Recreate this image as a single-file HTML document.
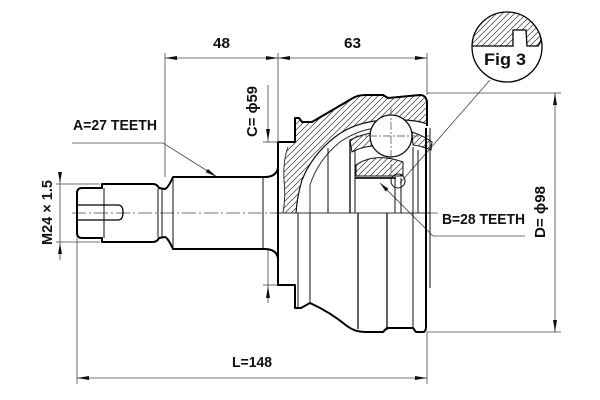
<!DOCTYPE html>
<html><head><meta charset="utf-8"><style>html,body{margin:0;padding:0;background:#fff;}svg{display:block}</style></head>
<body>
<svg width="600" height="400" viewBox="0 0 600 400" xmlns="http://www.w3.org/2000/svg">
<defs>
<pattern id="h" patternUnits="userSpaceOnUse" width="6" height="6">
<path d="M0,6 L6,0 M-1,1 L1,-1 M5,7 L7,5" stroke="#333" stroke-width="0.7"/>
</pattern>
<clipPath id="fc"><circle cx="507" cy="47" r="35"/></clipPath>
</defs>
<rect width="600" height="400" fill="#fff"/>

<!-- dimension lines -->
<g stroke="#444" stroke-width="0.8" fill="none">
<line x1="165" y1="58" x2="427" y2="58"/>
<line x1="165" y1="53" x2="165" y2="177"/>
<line x1="278" y1="53" x2="278" y2="142"/>
<line x1="427" y1="53" x2="427" y2="95"/>
<line x1="77" y1="378" x2="427" y2="378"/>
<line x1="77" y1="238" x2="77" y2="384"/>
<line x1="427" y1="332" x2="427" y2="384"/>
<line x1="555" y1="93" x2="555" y2="332"/>
<line x1="427" y1="93" x2="561" y2="93"/>
<line x1="427" y1="332" x2="561" y2="332"/>
<line x1="60" y1="175" x2="60" y2="260"/>
<line x1="56" y1="184" x2="100" y2="184"/>
<line x1="56" y1="242" x2="100" y2="242"/>
<line x1="268" y1="85" x2="268" y2="142"/>
<line x1="263" y1="142" x2="278" y2="142"/>
<line x1="268" y1="249" x2="268" y2="303"/>
<line x1="263" y1="285" x2="278" y2="285"/>
<polyline points="72,143 163,143 217,177"/>
<polyline points="525,236 433,236 380,183"/>
<line x1="490" y1="80" x2="400" y2="183"/>
</g>
<g fill="#111">
<polygon points="165,58 177,56 177,60"/>
<polygon points="278,58 266,56 266,60"/>
<polygon points="278,58 290,56 290,60"/>
<polygon points="427,58 415,56 415,60"/>
<polygon points="77,378 89,376 89,380"/>
<polygon points="427,378 415,376 415,380"/>
<polygon points="555,93 553,105 557,105"/>
<polygon points="555,332 553,320 557,320"/>
<polygon points="60,183 58,172 62,172"/>
<polygon points="60,243 58,254 62,254"/>
<polygon points="268,141 266,129 270,129"/>
<polygon points="268,286 266,298 270,298"/>
<polygon points="217,177 205.7,172.3 207.9,168.9"/>
<polygon points="380,183 388.5,188.7 385.7,191.5"/>
</g>

<!-- centerline -->
<line x1="72" y1="213" x2="440" y2="213" stroke="#444" stroke-width="0.8" stroke-dasharray="14,3,2,3"/>
<line x1="278" y1="213" x2="430" y2="213" stroke="#333" stroke-width="0.9"/>

<!-- hatched housing -->
<path d="M283,213 Q286,195 284,180 Q283,160 288,147 L295,142 L295,118 L299,118 L302,122 L312,122 L353,98 Q358,95 366,95 L383,95 L388,98 L420,95 Q426,95 427,102 L427,124 Q420,121 405,120 L375,121 Q352,124 335,137 Q312,155 302,180 Q297,197 296,213 Z" fill="url(#h)" stroke="none"/>
<path d="M283,213 Q286,195 284,180 Q283,160 288,147" fill="none" stroke="#222" stroke-width="0.9"/>
<path d="M296,213 Q297,197 302,180 Q312,155 335,137 Q352,124 375,121 L405,120 Q420,121 427,124" fill="none" stroke="#111" stroke-width="1.2"/>
<path d="M310,213 L310,185 Q318,160 340,142 Q356,131 375,128" fill="none" stroke="#222" stroke-width="0.9"/>

<!-- cage & inner race -->
<path d="M350,140 Q360,135 371,133 L372,146 Q361,147 352,152 Z" fill="url(#h)" stroke="#111" stroke-width="1"/>
<path d="M412,132 Q424,136 432,142 L431,150 Q422,146 413,145 Z" fill="url(#h)" stroke="#111" stroke-width="1"/>
<path d="M356,165 Q375,152 403,162 L403,176 L356,176 Z" fill="url(#h)" stroke="#111" stroke-width="1"/>

<!-- body vertical lines -->
<g stroke="#111" stroke-width="1" fill="none">
<line x1="328" y1="148" x2="328" y2="213"/>
<line x1="350" y1="140" x2="350" y2="213" stroke-width="1.4"/>
<line x1="355" y1="150" x2="355" y2="213"/>
<line x1="395" y1="178" x2="395" y2="213"/>
<line x1="401" y1="178" x2="401" y2="213"/>
<line x1="413" y1="147" x2="413" y2="213"/>
<line x1="418" y1="150" x2="418" y2="213"/>
<line x1="430" y1="128" x2="430" y2="288"/>
<line x1="298" y1="213" x2="298" y2="308"/>
<line x1="310" y1="213" x2="310" y2="303"/>
<line x1="358" y1="213" x2="358" y2="329" stroke-width="1.3"/>
<line x1="387" y1="213" x2="387" y2="330" stroke-width="1.3"/>
<line x1="413" y1="213" x2="413" y2="328"/>
<line x1="355" y1="178" x2="396" y2="178" stroke-width="1.8"/>
<line x1="104" y1="188" x2="104" y2="238"/>
<line x1="158" y1="189" x2="158" y2="237"/>
<line x1="162" y1="189" x2="162" y2="237"/>
<line x1="173" y1="177" x2="173" y2="249"/>
<line x1="263" y1="177" x2="263" y2="249"/>
</g>

<!-- ball -->
<circle cx="391" cy="136" r="21" fill="#fff" stroke="#111" stroke-width="1.3"/>
<line x1="391" y1="108" x2="391" y2="178" stroke="#444" stroke-width="0.7" stroke-dasharray="8,2,2,2"/>
<line x1="355" y1="136" x2="430" y2="136" stroke="#444" stroke-width="0.7" stroke-dasharray="8,2,2,2"/>
<circle cx="398" cy="181" r="7" fill="none" stroke="#111" stroke-width="1"/>

<!-- thick outlines -->
<g stroke="#000" stroke-width="2" fill="none" stroke-linejoin="round">
<path d="M77,193 Q77,188 82,188 L102,188 L102,184 L153,184 Q157,184 159,188 L165,189 Q168,188 173,177 L265,177 Q276,177 278,168"/>
<path d="M77,233 Q77,238 82,238 L102,238 L102,242 L153,242 Q157,242 159,238 L165,237 Q168,238 173,249 L265,249 Q276,249 278,258"/>
<line x1="77" y1="193" x2="77" y2="233"/>
<path d="M278,142 L278,285 L295,285 L295,308 L301,308 L310,303 Q330,312 347,326 Q355,332 365,332 L383,332 L387,328 L413,328 L416,332 L423,332 Q426,332 426,326 L426,128"/>
<path d="M278,142 L295,142 L295,118 L299,118 L302,122 L312,122 L353,98 Q358,95 366,95 L383,95 L388,98 L420,95 Q426,95 427,102 L427,126"/>
<path d="M77,205 L118,205 Q123,205 123,212.5 Q123,220 118,220 L77,220" stroke-width="1.3"/>
</g>

<!-- Fig 3 detail -->
<g clip-path="url(#fc)">
<path d="M468,46 L513,46 L513,30 L526,30 L527,46 L545,46 L545,8 L468,8 Z" fill="url(#h)" stroke="none"/>
</g>
<path d="M472,46 L513,46 L513,30 L526,30 L527,46 L538,46 Q541,42 541,38" fill="none" stroke="#000" stroke-width="1.3"/>
<circle cx="507" cy="47" r="35" fill="none" stroke="#000" stroke-width="1.3"/>

<!-- text -->
<g font-family="'Liberation Sans', sans-serif" fill="#111" font-size="15" font-weight="bold">
<text x="213" y="48" textLength="17" lengthAdjust="spacingAndGlyphs">48</text>
<text x="344" y="48" textLength="17" lengthAdjust="spacingAndGlyphs">63</text>
<text x="73" y="130" textLength="84" lengthAdjust="spacingAndGlyphs">A=27 TEETH</text>
<text x="442" y="224" textLength="83" lengthAdjust="spacingAndGlyphs">B=28 TEETH</text>
<text x="232" y="367" textLength="40" lengthAdjust="spacingAndGlyphs">L=148</text>
<text x="484" y="65" font-size="17" textLength="42" lengthAdjust="spacingAndGlyphs">Fig 3</text>
<text transform="translate(257,137) rotate(-90)" textLength="51" lengthAdjust="spacingAndGlyphs">C= ϕ59</text>
<text transform="translate(545,238) rotate(-90)" textLength="52" lengthAdjust="spacingAndGlyphs">D= ϕ98</text>
<text transform="translate(52,245) rotate(-90)" textLength="65" lengthAdjust="spacingAndGlyphs">M24 × 1.5</text>
</g>
</svg>
</body></html>
